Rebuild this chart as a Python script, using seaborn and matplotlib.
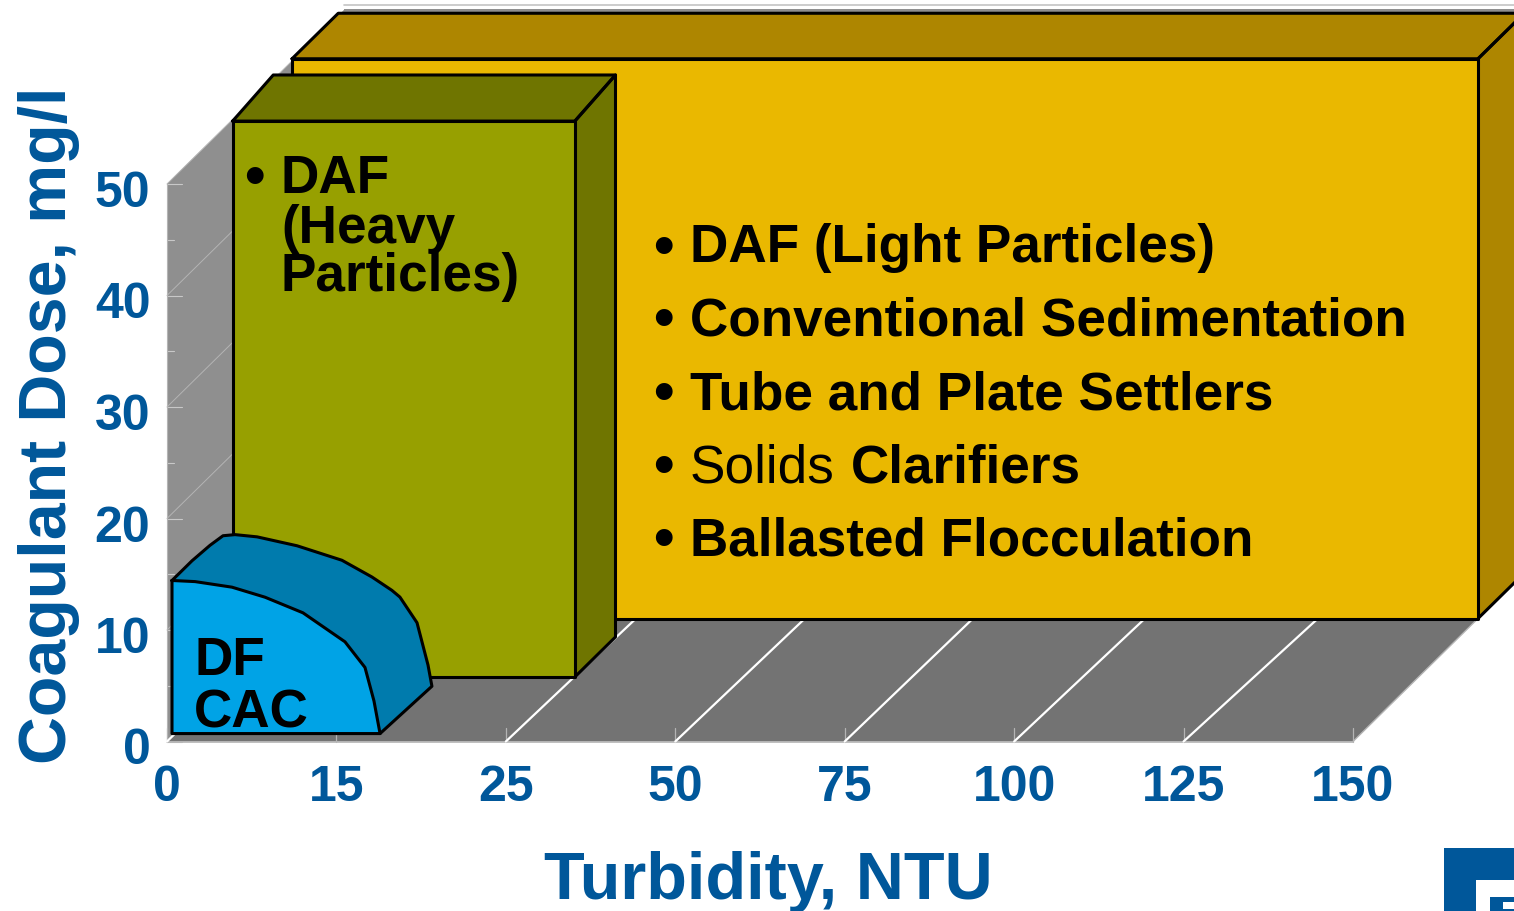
import matplotlib
matplotlib.use('Agg')
import matplotlib.pyplot as plt
import matplotlib.transforms as mtrans
from matplotlib.patches import Rectangle
import seaborn as sns

# axis categories (evenly spaced, not a linear scale)
turbidity_labels = ['0', '15', '25', '50', '75', '100', '125', '150']
dose_major = [0, 10, 20, 30, 40, 50]
dose_minor = [5, 15, 25, 35, 45]

# where the white floor lines meet the back edge, in category position
floor_grid_start = [0, 2, 3, 4, 5, 6]
floor_grid_end = [0.738, 2.768, 3.765, 4.757, 5.772, 6.793]

# regions: x is the category position, y is the dose, depth 0 = front of floor
yellow_x = [0, 7]
yellow_top = 50.2
yellow_depth = [1.0, 1.37]
green_x = [0, 2.02]
green_top = 49.85
green_back_top = 50.4
green_depth = [0.525, 0.85]

# DF / CAC blob
blob_front_x = [0, 0.136, 0.354, 0.549, 0.773, 1.021, 1.139, 1.192, 1.228]
blob_front_y = [14.0, 13.9, 13.4, 12.5, 11.1, 8.5, 6.2, 3.2, 0.27]
blob_base_y = 0.27
blob_side_depth = [0.2, 0.344]
blob_side_y = [14.0, 13.8]
blob_back_x = [0.006, 0.077, 0.207, 0.443, 0.708, 0.885, 1.003, 1.05, 1.151, 1.216, 1.239]
blob_back_y = [13.6, 13.7, 13.5, 12.7, 11.4, 9.9, 8.7, 8.1, 5.8, 2.0, 0.1]
blob_depth = [0.04, 0.44]

light_items = ['DAF (Light Particles)', 'Conventional Sedimentation',
               'Tube and Plate Settlers', None, 'Ballasted Flocculation']
light_baselines = [262.5, 335, 409, 482, 555]

W, H = 1514, 911
BLUE = '#00579A'
DEPTH_X = 125 / 169.43
DEPTH_Y = 123 / 11.15

sns.set_theme(style='white')
plt.rcParams['font.family'] = ['Liberation Sans', 'DejaVu Sans']

fig = plt.figure(figsize=(W / 100, H / 100), dpi=100, facecolor='white')
ax = fig.add_axes([167 / W, 1 - 741.5 / H, (1353 - 167) / W, (741.5 - 184) / H])
ax.patch.set_alpha(0)


def project(x, y, d):
    return x + d * DEPTH_X, y + d * DEPTH_Y


def poly(points, color, z, edge='black', lw=2.2):
    xs = [p[0] for p in points]
    ys = [p[1] for p in points]
    ax.fill(xs, ys, color=color, zorder=z, clip_on=False, lw=0)
    if edge:
        sns.lineplot(x=xs + xs[:1], y=ys + ys[:1], sort=False, estimator=None, color=edge,
                     lw=lw, zorder=z + 0.1, ax=ax, clip_on=False)


def line(p0, p1, color, lw, z):
    sns.lineplot(x=[p0[0], p1[0]], y=[p0[1], p1[1]], sort=False, estimator=None, color=color,
                 lw=lw, zorder=z, ax=ax, clip_on=False)


def px_text(px, py, s, **kw):
    kw.setdefault('fontsize', 38.25)
    kw.setdefault('fontweight', 'bold')
    kw.setdefault('color', 'black')
    kw.setdefault('va', 'baseline')
    return fig.text(px / W, 1 - py / H, s, zorder=20, **kw)


# back wall, left wall, floor
poly([project(0, 0, 1.42), project(8, 0, 1.42), project(8, 50, 1.42), project(0, 50, 1.42)], '#8F8F8F', 1, edge=None)
line(project(0, 50.4, 1.42), project(8, 50.4, 1.42), '#C4C4C4', 1.2, 1.1)
poly([project(0, 0, 0), project(0, 0, 1.42), project(0, 50, 1.42), project(0, 50, 0)], '#8F8F8F', 1, edge=None)
poly([project(0, 0, 0), project(7, 0, 0), project(7, 0, 1), project(0, 0, 1)], '#737373', 2, edge=None)

# grid on the wall
for v in dose_major:
    line(project(0, v, 0), project(0, v, 1), '#B4B4B4', 0.7, 2.5)
    line((0, v), (15 / 169.43, v), '#C8C8C8', 0.8, 2.6)
for v in dose_minor:
    line((0, v), (7 / 169.43, v), '#C8C8C8', 0.8, 2.6)

# grid on the floor
line((0, 0), (7, 0), '#B4B4B4', 1.2, 2.6)
line((0, 0), (0, 50), '#B4B4B4', 0.8, 2.6)
line((7, 0), project(7, 0, 1), '#B4B4B4', 1.0, 2.6)
for i in range(len(turbidity_labels)):
    line((i, 0), (i, 14 / 11.15), '#B4B4B4', 0.9, 2.6)
for a, b in zip(floor_grid_start, floor_grid_end):
    line((a, 0), (b, DEPTH_Y), 'white', 1.6, 2.7)

# yellow box
d0, d1 = yellow_depth
x0, x1 = yellow_x
poly([project(x0, yellow_top, d0), project(x1, yellow_top, d0), project(x1, yellow_top, d1), project(x0, yellow_top, d1)], '#AE8600', 3)
poly([project(x1, 0, d0), project(x1, 0, d1), project(x1, yellow_top, d1), project(x1, yellow_top, d0)], '#AE8600', 3)
poly([project(x0, 0, d0), project(x1, 0, d0), project(x1, yellow_top, d0), project(x0, yellow_top, d0)], '#EAB800', 4)

# green box
d0, d1 = green_depth
x0, x1 = green_x
poly([project(x0, green_top, d0), project(x1, green_top, d0), project(x1, green_back_top, d1), project(x0, green_back_top, d1)], '#6F7500', 5)
poly([project(x1, 0, d0), project(x1, 0, d1), project(x1, green_back_top, d1), project(x1, green_top, d0)], '#6F7500', 5)
poly([project(x0, 0, d0), project(x1, 0, d0), project(x1, green_top, d0), project(x0, green_top, d0)], '#97A000', 6)

# blob
d0, d1 = blob_depth
front = [project(x, y, d0) for x, y in zip(blob_front_x, blob_front_y)]
corner = project(0, blob_base_y, d0)
side = [project(0, y, d) for d, y in zip(blob_side_depth, blob_side_y)]
back = [project(x, y, d1) for x, y in zip(blob_back_x, blob_back_y)]
poly([front[0]] + side + back + [front[-1]], '#007BAD', 7)
poly(front + [corner], '#00A3E6', 8)

# box labels
px_text(244, 195, '•', ha='left', fontsize=42)
px_text(281, 193, 'DAF')
px_text(281, 243, '(Heavy')
px_text(281, 291, 'Particles)')
px_text(194, 675, 'DF')
px_text(194, 728, 'CAC')
for text, base in zip(light_items, light_baselines):
    px_text(653, base + 2, '•', ha='left', fontsize=42)
    if text:
        px_text(690, base, text)
px_text(690, 482, 'Solids', fontweight='normal')
px_text(851, 482, 'Clarifiers')

# axes
ax.set_xlim(0, 7)
ax.set_ylim(0, 50)
ax.set_xticks(range(len(turbidity_labels)), turbidity_labels)
ax.set_yticks(dose_major, [str(v) for v in dose_major])
ax.tick_params(axis='both', length=0, labelsize=36, labelcolor=BLUE)
ax.tick_params(axis='x', pad=17)
ax.tick_params(axis='y', pad=12)
for lab in ax.get_xticklabels() + ax.get_yticklabels():
    lab.set_fontweight('bold')
offset = mtrans.ScaledTranslation(0, -5 / 100, fig.dpi_scale_trans)
for lab in ax.get_yticklabels():
    lab.set_transform(lab.get_transform() + offset)
sns.despine(ax=ax, left=True, bottom=True)

px_text(768, 899, 'Turbidity, NTU', ha='center', fontsize=48, color=BLUE)
fig.text(80 / W, 1 - 425 / H, 'Coagulant Dose, mg/l', rotation=90, ha='right', va='center',
         fontsize=47.7, fontweight='bold', color=BLUE)

# logo corner
fig.add_artist(Rectangle((1444 / W, 0), 70 / W, 63 / H, transform=fig.transFigure, color=BLUE, lw=0))
fig.add_artist(Rectangle((1476 / W, 0), 38 / W, 31 / H, transform=fig.transFigure, color='white', lw=0))
fig.add_artist(Rectangle((1490 / W, 0), 24 / W, 14 / H, transform=fig.transFigure, color=BLUE, lw=0))
fig.add_artist(Rectangle((1503 / W, 2 / H), 11 / W, 7 / H, transform=fig.transFigure, color='white', lw=0))

fig.savefig('out.png', dpi=100)
